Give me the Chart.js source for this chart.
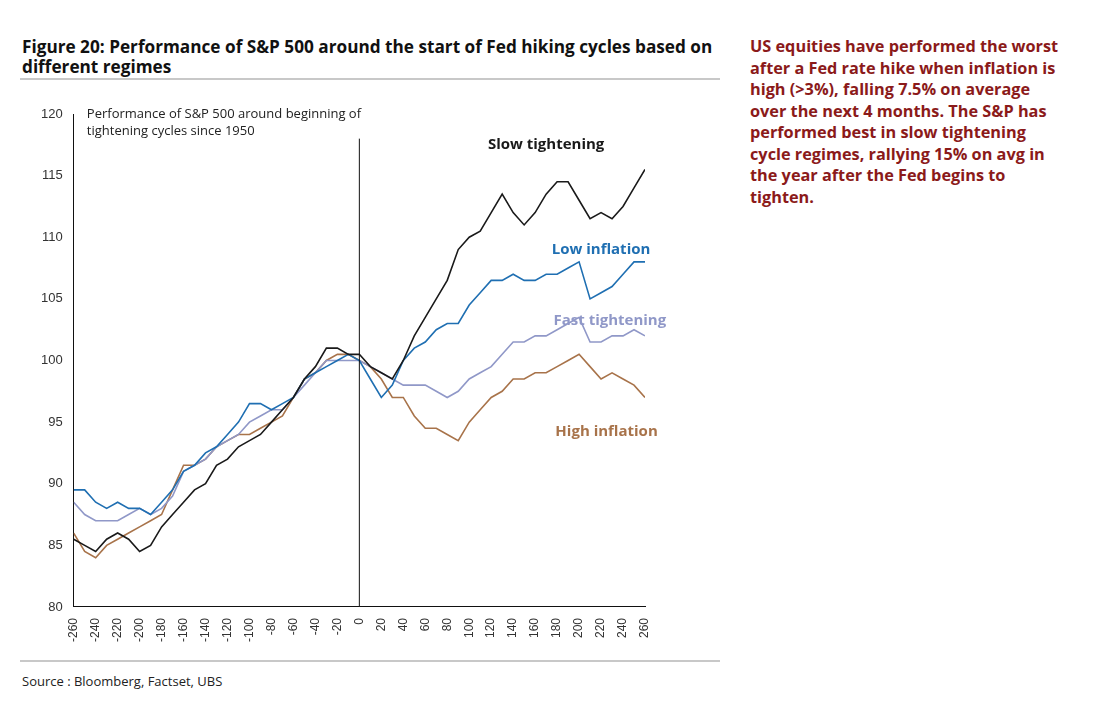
<!DOCTYPE html>
<html><head><meta charset="utf-8">
<script src="https://cdn.jsdelivr.net/npm/chart.js@4/dist/chart.umd.min.js"></script>
<style>
body{margin:0;background:#fff;font-family:"Open Sans","Noto Sans",sans-serif;width:1100px;height:714px;position:relative;overflow:hidden}
#title{position:absolute;left:22px;top:37px;width:700px;font-weight:bold;font-size:17.2px;line-height:20px;color:#111}
.rule{position:absolute;left:20px;width:700px;height:2px;background:#c8c8c8}
#note{position:absolute;left:750px;top:36px;width:318px;font-weight:bold;font-size:16.3px;line-height:21.5px;color:#8b1a1a}
#src{position:absolute;left:22px;top:672px;font-size:13px;color:#222}
#wrap{position:absolute;left:0;top:100px;width:720px;height:545px}
</style></head><body>
<div id="title">Figure 20: Performance of S&amp;P 500 around the start of Fed hiking cycles based on different regimes</div>
<div class="rule" style="top:78px"></div>
<div id="note">US equities have performed the worst after a Fed rate hike when inflation is high (&gt;3%), falling 7.5% on average over the next 4 months. The S&amp;P has performed best in slow tightening cycle regimes, rallying 15% on avg in the year after the Fed begins to tighten.</div>
<div class="rule" style="top:660px"></div>
<div id="src">Source : Bloomberg, Factset, UBS</div>
<div id="wrap"><canvas id="c"></canvas></div>
<script>
const days = [-260,-250,-240,-230,-220,-210,-200,-190,-180,-170,-160,-150,-140,-130,-120,-110,-100,-90,-80,-70,-60,-50,-40,-30,-20,-10,0,10,20,30,40,50,60,70,80,90,100,110,120,130,140,150,160,170,180,190,200,210,220,230,240,250,260];
const slowTightening = [85.5,85,84.5,85.5,86,85.5,84.5,85,86.5,87.5,88.5,89.5,90,91.5,92,93,93.5,94,95,96,97,98.5,99.5,101,101,100.5,100.5,99.5,99,98.5,100,102,103.5,105,106.5,109,110,110.5,112,113.5,112,111,112,113.5,114.5,114.5,113,111.5,112,111.5,112.5,114,115.5];
const lowInflation = [89.5,89.5,88.5,88,88.5,88,88,87.5,88.5,89.5,91,91.5,92.5,93,94,95,96.5,96.5,96,96.5,97,98.5,99,99.5,100,100.5,100,98.5,97,98,100,101,101.5,102.5,103,103,104.5,105.5,106.5,106.5,107,106.5,106.5,107,107,107.5,108,105,105.5,106,107,108,108];
const fastTightening = [88.5,87.5,87,87,87,87.5,88,87.5,88,89,91,91.5,92,93,93.5,94,95,95.5,96,96,97,98,99,100,100,100,100,99.5,99,98.5,98,98,98,97.5,97,97.5,98.5,99,99.5,100.5,101.5,101.5,102,102,102.5,103,103.5,101.5,101.5,102,102,102.5,102];
const highInflation = [86,84.5,84,85,85.5,86,86.5,87,87.5,89.5,91.5,91.5,92,93,93.5,94,94,94.5,95,95.5,97,98.5,99,100,100.5,100.5,100,99.5,98.5,97,97,95.5,94.5,94.5,94,93.5,95,96,97,97.5,98.5,98.5,99,99,99.5,100,100.5,99.5,98.5,99,98.5,98,97];
const xTicks = [];
for (let v = -260; v <= 260; v += 20) xTicks.push(v);

const pts = arr => days.map((d, i) => ({x: d, y: arr[i]}));
const series = [
  {label: 'Slow tightening', data: slowTightening, color: '#1a1a1a', lx: 170, ly: 117.5},
  {label: 'Low inflation', data: lowInflation, color: '#1f6fb2', lx: 220, ly: 109},
  {label: 'Fast tightening', data: fastTightening, color: '#9098c8', lx: 228, ly: 103.2},
  {label: 'High inflation', data: highInflation, color: '#a8734a', lx: 225, ly: 94.2}
];

const overlay = {
  id: 'overlay',
  afterDatasetsDraw(chart) {
    const {ctx, scales: {x, y}} = chart;
    ctx.save();
    ctx.strokeStyle = '#111'; ctx.lineWidth = 1;
    ctx.beginPath();
    ctx.moveTo(x.getPixelForValue(0), y.getPixelForValue(118));
    ctx.lineTo(x.getPixelForValue(0), y.getPixelForValue(80));
    ctx.stroke();
    ctx.fillStyle = '#222'; ctx.font = '13px "Open Sans"'; ctx.textBaseline = 'middle';
    ctx.fillText('Performance of S&P 500 around beginning of', x.getPixelForValue(-248), y.getPixelForValue(120));
    ctx.fillText('tightening cycles since 1950', x.getPixelForValue(-248), y.getPixelForValue(118.6));
    ctx.font = 'bold 15px "Open Sans"'; ctx.textAlign = 'center';
    series.forEach(s => {
      ctx.fillStyle = s.color;
      ctx.fillText(s.label, x.getPixelForValue(s.lx), y.getPixelForValue(s.ly));
    });
    ctx.restore();
  }
};

new Chart(document.getElementById('c'), {
  type: 'line',
  data: {
    datasets: series.map(s => ({
      label: s.label, data: pts(s.data), borderColor: s.color,
      borderWidth: 1.6, pointRadius: 0, tension: 0
    }))
  },
  options: {
    responsive: true, maintainAspectRatio: false, animation: false,
    layout: {padding: {left: 38, right: 75, top: 14, bottom: 0}},
    plugins: {legend: {display: false}, tooltip: {enabled: false}},
    scales: {
      x: {
        type: 'linear', min: -260, max: 260,
        afterBuildTicks: a => { a.ticks = xTicks.map(v => ({value: v})); },
        grid: {display: false, drawTicks: true},
        border: {color: '#111'},
        ticks: {color: '#333', font: {size: 12}, maxRotation: 90, minRotation: 90, autoSkip: false}
      },
      y: {
        min: 80, max: 120,
        grid: {display: false},
        border: {color: '#111'},
        ticks: {stepSize: 5, color: '#333', font: {size: 13}}
      }
    }
  },
  plugins: [overlay]
});
</script>
</body></html>
